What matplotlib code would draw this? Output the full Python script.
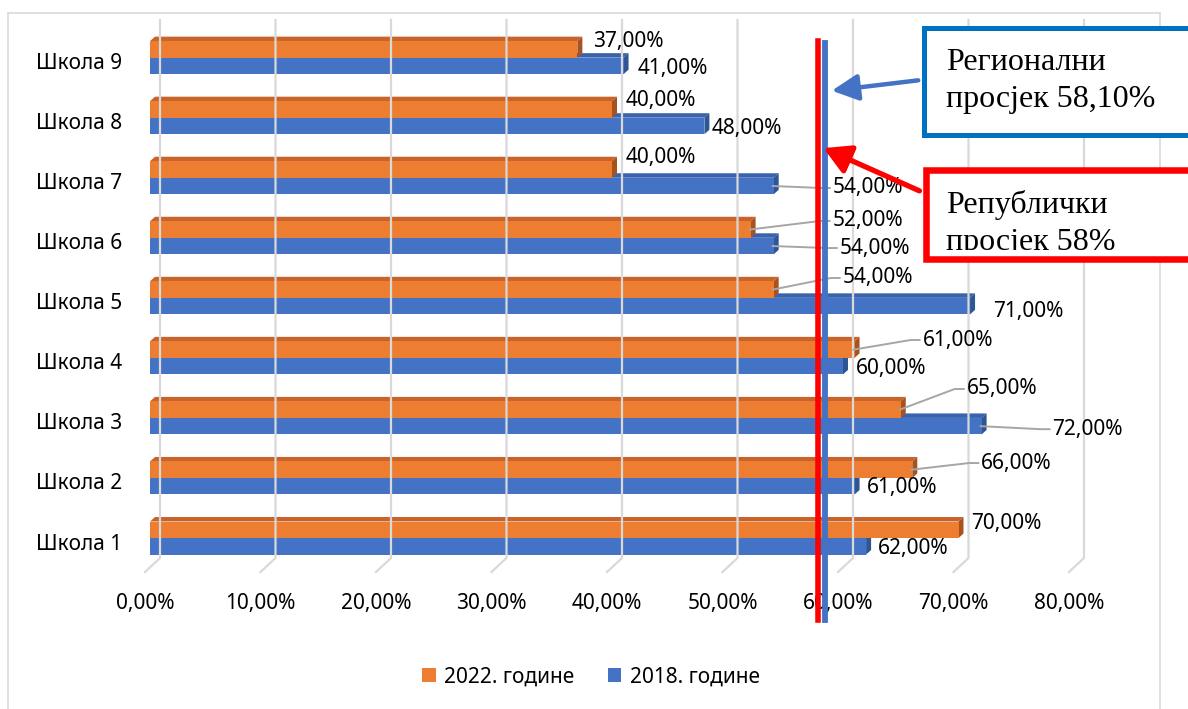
import matplotlib
matplotlib.use('Agg')
import matplotlib.pyplot as plt
from matplotlib.patches import Polygon, Rectangle, FancyArrowPatch, Patch
from matplotlib.lines import Line2D
from matplotlib.transforms import IdentityTransform

# ---------------- data ----------------
schools = ['Школа 1', 'Школа 2', 'Школа 3', 'Школа 4', 'Школа 5',
           'Школа 6', 'Школа 7', 'Школа 8', 'Школа 9']
values_2022 = [70, 66, 65, 61, 54, 52, 40, 40, 37]
values_2018 = [62, 61, 72, 60, 71, 54, 54, 48, 41]
series_names = ['2022. године', '2018. године']
x_ticks = [0, 10, 20, 30, 40, 50, 60, 70, 80]
x_tick_labels = ['0,00%', '10,00%', '20,00%', '30,00%', '40,00%',
                 '50,00%', '60,00%', '70,00%', '80,00%']
republic_avg = 58.0
regional_avg = 58.1
regional_text = ['Регионални', 'просјек 58,10%']
republic_text = ['Републички', 'просјек 58%']

# ---------------- layout (pixels) ----------------
W, H = 1188, 709
C_OR, C_OR_TOP, C_OR_SIDE = '#ED7D31', '#C8642A', '#A8531E'
C_BL, C_BL_TOP, C_BL_SIDE = '#4472C4', '#3A63AD', '#2E5594'
GRID = '#D9D9D9'
LEAD = '#A6A6A6'
# label offsets (dx, dy) in image pixels from bar end / bar centre, and leader flag
lab_2022 = [(12.5, -6.7, 0), (69, -6.7, 1), (66, -20.7, 1), (68, -9.6, 1), (69, -11.6, 1),
            (82, -8.6, 1), (14, -11.5, 0), (14, -8.5, 0), (15.6, -7.4, 0)]
lab_2018 = [(12, 2, 0), (12, 1, 0), (71, 3, 1), (13, 2, 0), (23, 5, 0),
            (66, 2, 1), (59, 2, 1), (7.6, 3, 0), (14.4, 3, 0)]

plt.rcParams['font.family'] = ['Noto Sans', 'DejaVu Sans']
FS = 15

fig = plt.figure(figsize=(W / 100, H / 100), dpi=100)
ax = fig.add_axes([150 / W, (H - 572) / H, 924 / W, 552 / H])
ax.set_xlim(0, 80)
ax.set_ylim(-0.566, 8.627)
ax.axis('off')

ID = IdentityTransform()


def to_img(xd, yd):
    p = ax.transData.transform((xd, yd))
    return p[0], H - p[1]


def px(xi, yi):
    return (xi, H - yi)


inv = ax.transData.inverted()
o = inv.transform((0, 0))
d = inv.transform((5, 4.5))
DX, DY = d[0] - o[0], d[1] - o[1]
BH = 0.275

# outer chart border
fig.add_artist(Rectangle(px(8, 725), 1152, 712, transform=ID, fill=False,
                         edgecolor=GRID, lw=1.2, zorder=0))

# gridlines (back wall + floor)
for t in x_ticks:
    xi, _ = to_img(t, 0)
    fig.add_artist(Line2D([xi + 10, xi + 10, xi - 5], [H - 20, H - 558, H - 572],
                          transform=ID, color=GRID, lw=1.6, zorder=0.5))


def bar3d(y0, v, front, top, side, z):
    y1 = y0 + BH
    ax.barh(y0 + BH / 2, v, height=BH, color=front, zorder=z + 0.2, linewidth=0)
    ax.add_patch(Polygon([(0, y1), (v, y1), (v + DX, y1 + DY), (DX, y1 + DY)],
                         closed=True, facecolor=top, edgecolor='none', zorder=z))
    ax.add_patch(Polygon([(v, y0), (v, y1), (v + DX, y1 + DY), (v + DX, y0 + DY)],
                         closed=True, facecolor=side, edgecolor='none', zorder=z + 0.1))


def fmt(v):
    return f'{v:.2f}'.replace('.', ',') + '%'


for i in range(len(schools)):
    bar3d(i - BH, values_2018[i], C_BL, C_BL_TOP, C_BL_SIDE, 2)
    bar3d(i, values_2022[i], C_OR, C_OR_TOP, C_OR_SIDE, 3)

# data labels and leader lines
for vals, labs, yc in ((values_2022, lab_2022, BH / 2), (values_2018, lab_2018, -BH / 2)):
    for i, v in enumerate(vals):
        ex, ey = to_img(v, i + yc)
        ldx, ldy, lead = labs[i]
        lx, ly = ex + ldx, ey + ldy
        fig.text(lx / W, 1 - ly / H, fmt(v), ha='left', va='center', fontsize=FS,
                 color='#000000', zorder=6)
        if lead:
            xs = [ex - 1, lx - 12, lx - 3]
            ys = [ey, ly, ly]
            fig.add_artist(Line2D(xs, [H - y for y in ys], transform=ID, color=LEAD,
                                  lw=1.4, zorder=4))

# category labels
for i, s in enumerate(schools):
    _, yi = to_img(0, i)
    fig.text(122 / W, 1 - (yi + 6) / H, s, ha='right', va='center', fontsize=FS)

# x tick labels
for t, lab in zip(x_ticks, x_tick_labels):
    xi, _ = to_img(t, 0)
    fig.text((xi - 5) / W, 1 - 603 / H, lab, ha='center', va='center', fontsize=FS)

# average lines
xr, _ = to_img(republic_avg, 0)
xb, _ = to_img(regional_avg, 0)
fig.add_artist(Line2D([xb + 4, xb + 4], [H - 43, H - 620], transform=ID,
                      color=C_BL, lw=4.2, zorder=7))
fig.add_artist(Line2D([xr - 1.5, xr - 1.5], [H - 41, H - 620], transform=ID,
                      color='#FF0000', lw=4.0, zorder=7.1))

# arrows
fig.add_artist(FancyArrowPatch(px(921, 80), px(829, 91), transform=ID,
                               arrowstyle='-|>,head_length=8,head_width=4',
                               mutation_scale=2, color=C_BL, lw=3.2, zorder=8))
fig.add_artist(FancyArrowPatch(px(922, 192), px(821, 147), transform=ID,
                               arrowstyle='-|>,head_length=8,head_width=4.5',
                               mutation_scale=2, color='#FF0000', lw=3.8, zorder=8))

# text boxes
fig.add_artist(Rectangle(px(923.5, 134.5), 300, 106.3, transform=ID, facecolor='white',
                         edgecolor='#0070C0', lw=3.6, zorder=9))
fig.add_artist(Rectangle(px(926, 258.75), 300, 88.5, transform=ID, facecolor='white',
                         edgecolor='#FF0000', lw=4.7, zorder=9))
serif = ['Liberation Serif', 'DejaVu Serif']
fig.text(946 / W, 1 - 70 / H, regional_text[0], family=serif, fontsize=23,
         va='baseline', ha='left', zorder=10)
fig.text(946 / W, 1 - 107 / H, regional_text[1], family=serif, fontsize=23,
         va='baseline', ha='left', zorder=10)
clip = Rectangle(px(929, 249.5), 300, 75, transform=ID)
for txt, yb in zip(republic_text, (213, 250)):
    t = fig.text(946 / W, 1 - yb / H, txt, family=serif, fontsize=23,
                 va='baseline', ha='left', zorder=10)
    t.set_clip_path(clip)

# legend
handles = [Patch(facecolor=C_OR), Patch(facecolor=C_BL)]
fig.legend(handles, series_names, loc='center', bbox_to_anchor=(591 / W, 1 - 677 / H),
           ncol=2, frameon=False, fontsize=FS, handlelength=0.65, handleheight=0.65,
           handletextpad=0.4, columnspacing=1.6)

fig.savefig('out.png', dpi=100, facecolor='white')
